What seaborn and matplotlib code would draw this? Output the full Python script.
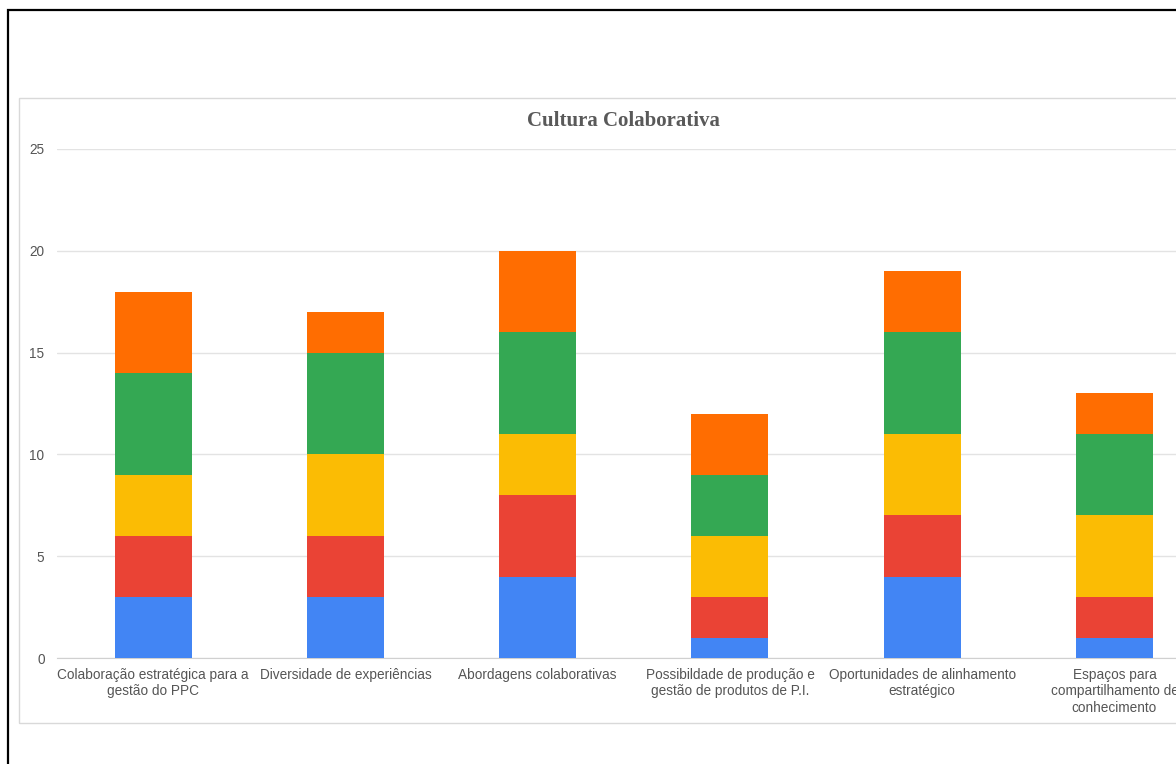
import matplotlib
matplotlib.use("Agg")
import matplotlib.pyplot as plt
import seaborn as sns
import pandas as pd
import numpy as np
from matplotlib.patches import Rectangle

# categories and series (bottom to top of each stack)
categories = [
    "Colaboração estratégica para a\ngestão do PPC",
    "Diversidade de experiências",
    "Abordagens colaborativas",
    "Possibildade de produção e\ngestão de produtos de P.I.",
    "Oportunidades de alinhamento\nestratégico",
    "Espaços para\ncompartilhamento de\nconhecimento",
]
series = ["Série 1", "Série 2", "Série 3", "Série 4", "Série 5"]
colors = ["#4285F4", "#EA4335", "#FBBC04", "#34A853", "#FF6D01"]

serie1 = [3, 3, 4, 1, 4, 1]
serie2 = [3, 3, 4, 2, 3, 2]
serie3 = [3, 4, 3, 3, 4, 4]
serie4 = [5, 5, 5, 3, 5, 4]
serie5 = [4, 2, 4, 3, 3, 2]
values = [serie1, serie2, serie3, serie4, serie5]

# cumulative heights for stacking
cum = np.cumsum(np.array(values), axis=0)
rows = []
for i, s in enumerate(series):
    for j, c in enumerate(categories):
        rows.append({"categoria": c, "serie": s, "total": cum[i, j]})
df = pd.DataFrame(rows)

sns.set_style("white")
plt.rcParams["font.family"] = ["Liberation Sans", "DejaVu Sans"]

fig = plt.figure(figsize=(11.76, 7.64), dpi=100)

# outer black frame and inner chart box
fig.patches.append(Rectangle((8 / 1176, -0.1), 1.2, (764 - 10) / 764 + 0.1,
                             transform=fig.transFigure, fill=False,
                             edgecolor="black", linewidth=1.6, zorder=0))
fig.patches.append(Rectangle((19 / 1176, (764 - 723) / 764), 1.2, (723 - 98) / 764,
                             transform=fig.transFigure, fill=False,
                             edgecolor="#d9d9d9", linewidth=1.0, zorder=0))

ax = fig.add_axes([57 / 1176, 106 / 764, 1 - 57 / 1176, (615 - 106) / 764])
ax.patch.set_alpha(0)

# draw tallest stacks first so lower segments sit on top
order = series[::-1]
pal = dict(zip(series, colors))
sns.barplot(data=df, x="categoria", y="total", hue="serie", hue_order=order,
            palette=pal, dodge=False, width=0.4, linewidth=0, saturation=1,
            legend=False, ax=ax, zorder=3)

ax.set_xlim(-0.5, 5.32)
ax.set_ylim(0, 25)
ax.set_yticks([0, 5, 10, 15, 20, 25])
ax.grid(axis="y", color="#e3e3e3", linewidth=1, zorder=0)
ax.set_axisbelow(True)
for side in ["top", "right", "left"]:
    ax.spines[side].set_visible(False)
ax.spines["bottom"].set_color("#d0d0d0")
ax.tick_params(axis="both", length=0, colors="#555555", labelsize=9.8)
ax.tick_params(axis="x", pad=7)
ax.tick_params(axis="y", pad=9)
for lab in ax.get_xticklabels():
    lab.set_linespacing(1.25)
ax.set_xlabel("")
ax.set_ylabel("")

fig.text(623 / 1176, 1 - 121 / 764, "Cultura Colaborativa", ha="center", va="center",
         fontsize=15, fontweight="bold", color="#595959",
         family=["Liberation Serif", "DejaVu Serif"])

plt.savefig("out.png", dpi=100)
